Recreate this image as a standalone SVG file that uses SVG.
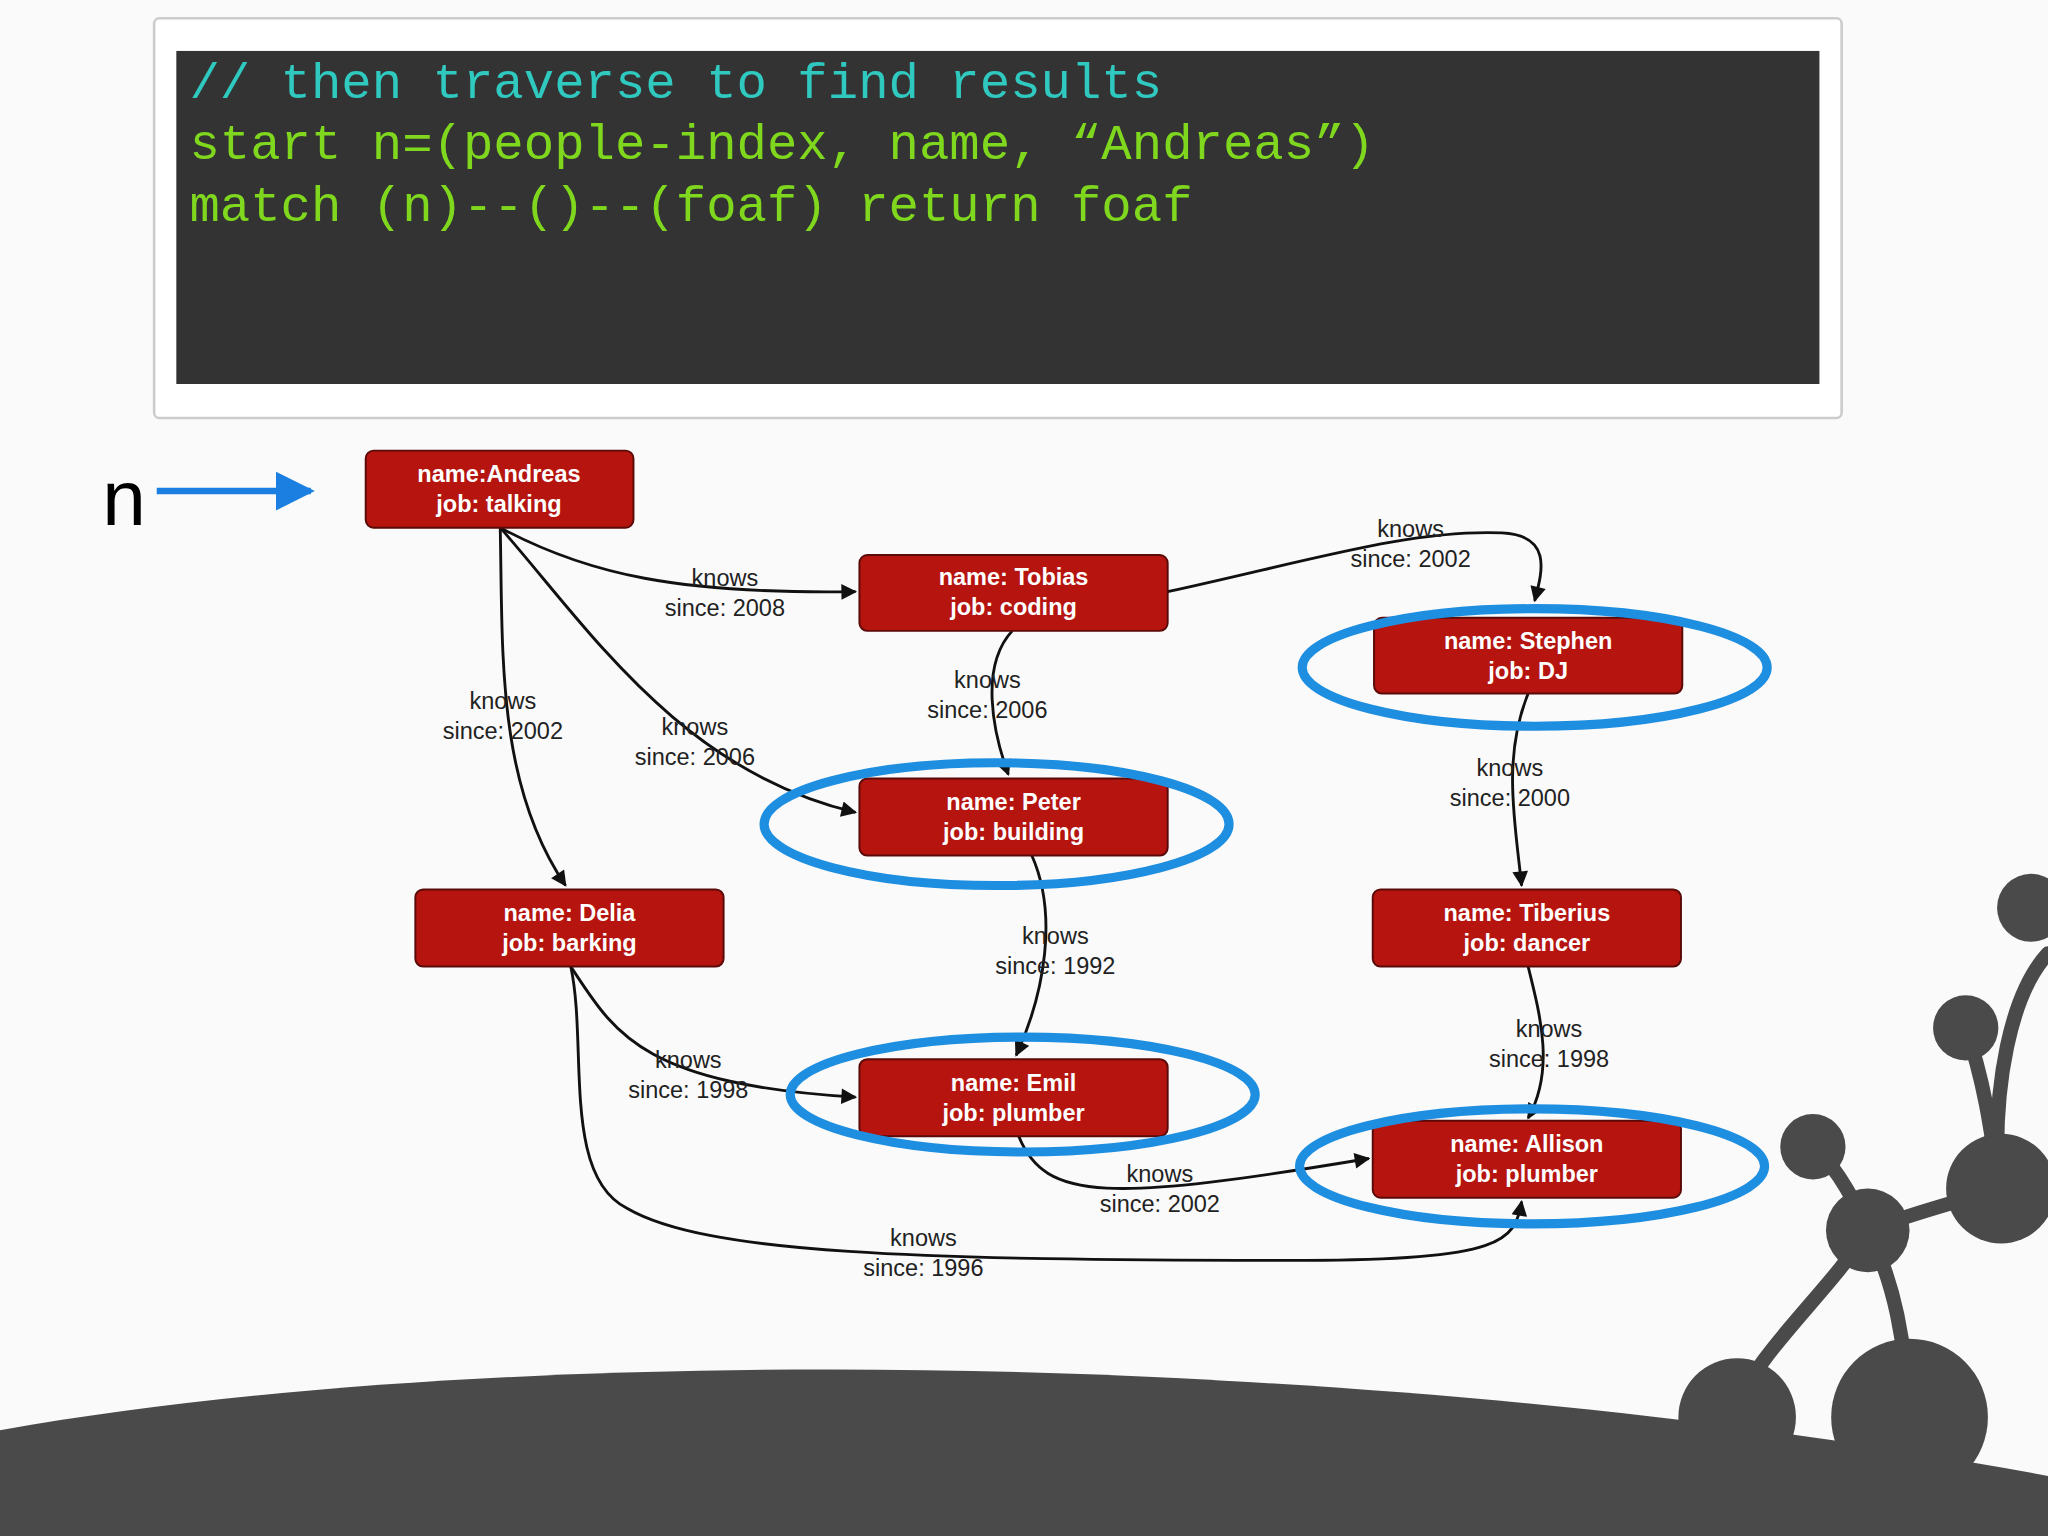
<svg xmlns="http://www.w3.org/2000/svg" width="2048" height="1536" viewBox="0 0 2048 1536">
<style>
.code{font-family:"Liberation Mono",monospace;font-size:38.8px}
.nt{font-family:"Liberation Sans",Arial,sans-serif;font-size:18px;font-weight:bold;fill:#fff;text-anchor:middle}
.lb{font-family:"Liberation Sans",Arial,sans-serif;font-size:18px;fill:#222;text-anchor:middle}
.node rect{fill:#b5140f;stroke:#5a0a08;stroke-width:1.5}
.e{fill:none;stroke:#111;stroke-width:2.2;marker-end:url(#ah)}
.ring{fill:none;stroke:#1e8ee0;stroke-width:7}
.br{stroke:#4a4a4a;stroke-width:11;fill:none;stroke-linecap:round}
</style>
<defs>
<marker id="ah" viewBox="0 0 10 10" refX="9" refY="5" markerWidth="14" markerHeight="12" orient="auto" markerUnits="userSpaceOnUse"><path d="M0,0 L10,5 L0,10 z" fill="#111"/></marker>
<marker id="bh" viewBox="0 0 10 10" refX="9" refY="5" markerWidth="6" markerHeight="6" orient="auto"><path d="M0,0 L10,5 L0,10 z" fill="#1a7fe0"/></marker>
</defs>
<rect width="2048" height="1536" fill="#fafafa"/>
<g transform="scale(1.30612)">
<g id="decor">
<path d="M0,1095 C250,1050 600,1040 900,1055 C1150,1068 1350,1090 1568,1130 L1568,1176 L0,1176 Z" fill="#4a4a4a"/>
<path class="br" d="M1568,730 C1540,760 1525,830 1530,910 M1505,787 C1520,830 1525,870 1530,905 M1390,878 C1410,900 1420,920 1430,942 M1430,942 C1400,990 1340,1040 1330,1080 M1430,942 C1450,980 1460,1030 1460,1080 M1530,910 C1500,920 1460,930 1430,942"/>
<circle cx="1555" cy="695" r="26" fill="#4a4a4a"/>
<circle cx="1505" cy="787" r="25" fill="#4a4a4a"/>
<circle cx="1388" cy="878" r="25" fill="#4a4a4a"/>
<circle cx="1430" cy="942" r="32" fill="#4a4a4a"/>
<circle cx="1532" cy="910" r="42" fill="#4a4a4a"/>
<circle cx="1330" cy="1085" r="45" fill="#4a4a4a"/>
<circle cx="1462" cy="1085" r="60" fill="#4a4a4a"/>
</g>
<g id="code">
<rect x="118" y="14" width="1292" height="306" rx="4" fill="#fff" stroke="#ccc" stroke-width="2"/>
<rect x="135" y="39" width="1258" height="255" fill="#333"/>
<text class="code" x="145" y="75" fill="#2fc9c0">// then traverse to find results</text>
<text class="code" x="145" y="122" fill="#7fd81e">start n=(people-index, name, “Andreas”)</text>
<text class="code" x="145" y="169" fill="#7fd81e">match (n)--()--(foaf) return foaf</text>
</g>
<g id="pointer">
<text x="95" y="402" font-family="Liberation Sans,Arial,sans-serif" font-size="60" text-anchor="middle" fill="#000">n</text>
<line x1="120" y1="376" x2="238" y2="376" stroke="#1a7fe0" stroke-width="5" marker-end="url(#bh)"/>
</g>
<g id="connectors">
<path class="e" d="M383,404 C450,440 520,455 655,453"/>
<path class="e" d="M383,404 C450,480 520,590 655,622"/>
<path class="e" d="M383,404 C385,500 380,600 433,678"/>
<path class="e" d="M894,453 C1000,430 1080,405 1150,408 C1190,410 1180,440 1175,460"/>
<path class="e" d="M775,483 C750,510 760,560 772,593"/>
<path class="e" d="M1170,531 C1150,580 1160,630 1165,678"/>
<path class="e" d="M790,655 C810,700 800,760 778,808"/>
<path class="e" d="M437,740 C470,790 490,830 655,840"/>
<path class="e" d="M1170,740 C1180,780 1190,820 1170,856"/>
<path class="e" d="M780,870 C800,920 850,920 1048,887"/>
<path class="e" d="M437,740 C450,800 430,900 480,925 C540,960 700,965 1000,965 C1150,965 1160,950 1165,920"/>
<g>
<text class="lb" x="555" y="449">knows</text><text class="lb" x="555" y="472">since: 2008</text>
<text class="lb" x="532" y="563">knows</text><text class="lb" x="532" y="586">since: 2006</text>
<text class="lb" x="385" y="543">knows</text><text class="lb" x="385" y="566">since: 2002</text>
<text class="lb" x="1080" y="411">knows</text><text class="lb" x="1080" y="434">since: 2002</text>
<text class="lb" x="756" y="527">knows</text><text class="lb" x="756" y="550">since: 2006</text>
<text class="lb" x="1156" y="594">knows</text><text class="lb" x="1156" y="617">since: 2000</text>
<text class="lb" x="808" y="723">knows</text><text class="lb" x="808" y="746">since: 1992</text>
<text class="lb" x="527" y="818">knows</text><text class="lb" x="527" y="841">since: 1998</text>
<text class="lb" x="1186" y="794">knows</text><text class="lb" x="1186" y="817">since: 1998</text>
<text class="lb" x="888" y="905">knows</text><text class="lb" x="888" y="928">since: 2002</text>
<text class="lb" x="707" y="954">knows</text><text class="lb" x="707" y="977">since: 1996</text>
</g>
</g>
<g id="n-andreas" class="node"><rect x="280" y="345" width="205" height="59" rx="6"/><text class="nt" x="382" y="369">name:Andreas</text><text class="nt" x="382" y="392">job: talking</text></g>
<g id="n-tobias" class="node"><rect x="658" y="425" width="236" height="58" rx="6"/><text class="nt" x="776" y="448">name: Tobias</text><text class="nt" x="776" y="471">job: coding</text></g>
<g id="n-stephen" class="node"><rect x="1052" y="473" width="236" height="58" rx="6"/><text class="nt" x="1170" y="497">name: Stephen</text><text class="nt" x="1170" y="520">job: DJ</text></g>
<g id="n-peter" class="node"><rect x="658" y="596" width="236" height="59" rx="6"/><text class="nt" x="776" y="620">name: Peter</text><text class="nt" x="776" y="643">job: building</text></g>
<g id="n-delia" class="node"><rect x="318" y="681" width="236" height="59" rx="6"/><text class="nt" x="436" y="705">name: Delia</text><text class="nt" x="436" y="728">job: barking</text></g>
<g id="n-tiberius" class="node"><rect x="1051" y="681" width="236" height="59" rx="6"/><text class="nt" x="1169" y="705">name: Tiberius</text><text class="nt" x="1169" y="728">job: dancer</text></g>
<g id="n-emil" class="node"><rect x="658" y="811" width="236" height="59" rx="6"/><text class="nt" x="776" y="835">name: Emil</text><text class="nt" x="776" y="858">job: plumber</text></g>
<g id="n-allison" class="node"><rect x="1051" y="858" width="236" height="59" rx="6"/><text class="nt" x="1169" y="882">name: Allison</text><text class="nt" x="1169" y="905">job: plumber</text></g>
<g id="rings">
<ellipse class="ring" cx="1175" cy="511" rx="178" ry="45"/>
<ellipse class="ring" cx="763" cy="631" rx="178" ry="47"/>
<ellipse class="ring" cx="783" cy="838" rx="178" ry="44"/>
<ellipse class="ring" cx="1173" cy="893" rx="178" ry="44"/>
</g>
</g>
</svg>
